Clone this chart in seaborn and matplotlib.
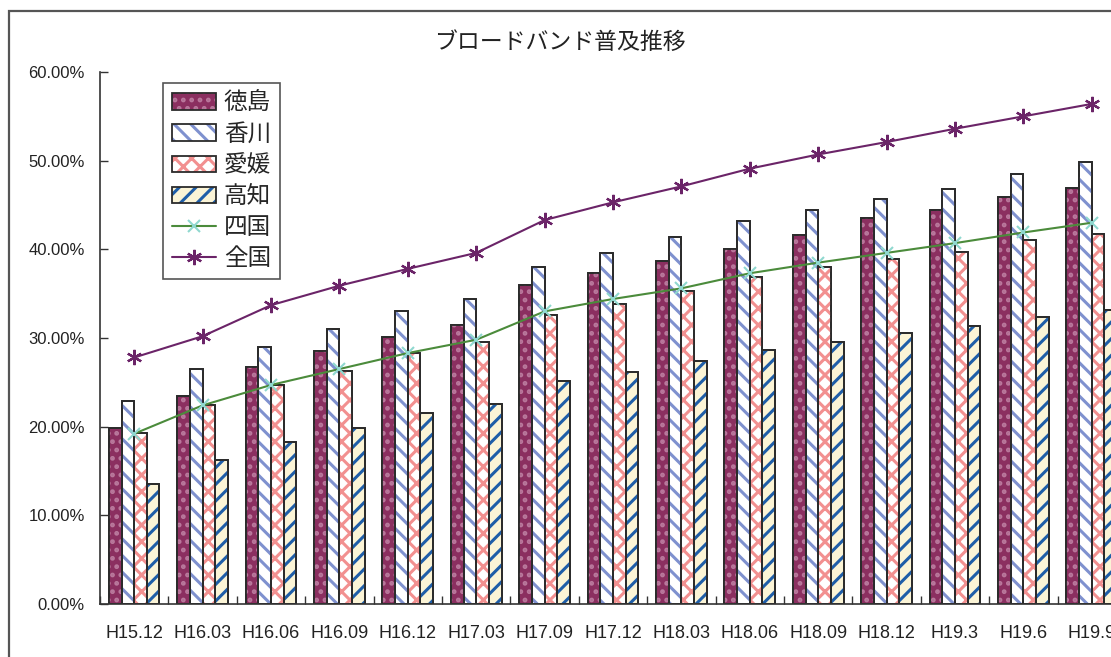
import numpy as np
import pandas as pd
import matplotlib
matplotlib.use('Agg')
import matplotlib.pyplot as plt
import seaborn as sns
from matplotlib.patches import Rectangle, Patch
from matplotlib.lines import Line2D
from matplotlib.ticker import FuncFormatter, FixedLocator

# data (percent)
periods = ['H15.12', 'H16.03', 'H16.06', 'H16.09', 'H16.12', 'H17.03', 'H17.09', 'H17.12',
           'H18.03', 'H18.06', 'H18.09', 'H18.12', 'H19.3', 'H19.6', 'H19.9']
prefs = ['徳島', '香川', '愛媛', '高知']
tokushima = [19.9, 23.5, 26.7, 28.5, 30.1, 31.5, 36.0, 37.3, 38.7, 40.0, 41.6, 43.5, 44.4, 45.9, 46.9]
kagawa = [22.9, 26.5, 29.0, 31.0, 33.0, 34.4, 38.0, 39.6, 41.4, 43.2, 44.4, 45.7, 46.8, 48.5, 49.8]
ehime = [19.3, 22.4, 24.7, 26.3, 28.3, 29.5, 32.6, 33.8, 35.3, 36.9, 38.0, 38.9, 39.7, 41.0, 41.7]
kochi = [13.5, 16.2, 18.3, 19.8, 21.5, 22.6, 25.1, 26.2, 27.4, 28.7, 29.5, 30.6, 31.4, 32.4, 33.2]
shikoku = [19.2, 22.4, 24.7, 26.5, 28.3, 29.8, 33.0, 34.4, 35.6, 37.3, 38.5, 39.6, 40.7, 41.9, 43.0]
zenkoku = [27.8, 30.2, 33.7, 35.9, 37.8, 39.6, 43.3, 45.3, 47.1, 49.1, 50.7, 52.1, 53.6, 55.0, 56.4]

face_colors = ['#8b2f60', '#ffffff', '#ffffff', '#fbf4d6']
hatch_colors = ['#b9789c', '#7f91cf', '#f29090', '#1f5ea8']
hatches = ['..', '\\\\', 'xx', '//']
edge = '#2b2b2b'

sns.set_theme(style='white')
plt.rcParams['font.family'] = ['Liberation Sans', 'Noto Sans CJK JP']
plt.rcParams['hatch.linewidth'] = 2.2

df = pd.DataFrame({
    'period': periods * 4,
    'pref': np.repeat(prefs, len(periods)),
    'value': np.concatenate([tokushima, kagawa, ehime, kochi]),
})

fig = plt.figure(figsize=(11.11, 6.57), dpi=100)
ax = fig.add_axes([0.09, 0.0807, 0.9235, 0.8097])

sns.barplot(data=df, x='period', y='value', hue='pref', hue_order=prefs,
            palette=dict(zip(prefs, face_colors)), saturation=1, width=0.74, gap=0,
            edgecolor=edge, linewidth=1.3, legend=False, ax=ax)

# hatch overlays + outlines
for i, cont in enumerate(ax.containers):
    for p in cont:
        xy, w, h = p.get_xy(), p.get_width(), p.get_height()
        ax.add_patch(Rectangle(xy, w, h, facecolor='none', edgecolor=hatch_colors[i],
                               hatch=hatches[i], lw=0, zorder=p.get_zorder() + 0.1))
        ax.add_patch(Rectangle(xy, w, h, fill=False, edgecolor=edge, lw=1.3,
                               zorder=p.get_zorder() + 0.2))

x_pos = np.arange(len(periods))
sns.lineplot(x=x_pos, y=shikoku, color='#4b8b3b', lw=1.5, marker='x', markersize=9,
             markeredgecolor='#8fd8cf', markeredgewidth=1.5, ax=ax, zorder=5)
sns.lineplot(x=x_pos, y=zenkoku, color='#6b2468', lw=1.5, marker=(6, 2, 0), markersize=11,
             markeredgecolor='#6b2468', markeredgewidth=1.6, ax=ax, zorder=5)

ax.set_xlim(-0.5, len(periods) - 0.5)
ax.set_ylim(0, 60)
ax.set_xlabel('')
ax.set_ylabel('')
ax.set_xticks(x_pos, periods)
ax.xaxis.set_minor_locator(FixedLocator(np.arange(-0.5, len(periods), 1)))
ax.set_yticks(np.arange(0, 61, 10))
ax.yaxis.set_major_formatter(FuncFormatter(lambda v, _: f'{v:.2f}%'))
ax.tick_params(axis='x', which='major', length=0, pad=15, labelsize=13, colors='#222')
ax.tick_params(axis='x', which='minor', direction='in', length=6, width=1, color='#333', bottom=True)
ax.tick_params(axis='y', direction='in', length=6, width=1, color='#333', left=True,
               pad=11, labelsize=12, labelcolor='#222')
for s in ['top', 'right']:
    ax.spines[s].set_visible(False)
for s in ['left', 'bottom']:
    ax.spines[s].set_color('#333')
    ax.spines[s].set_linewidth(1.2)

# legend
handles = []
for fc, hc, ht in zip(face_colors, hatch_colors, hatches):
    handles.append((Patch(facecolor=fc, edgecolor='none'),
                    Patch(facecolor='none', edgecolor=hc, hatch=ht, lw=0),
                    Patch(fill=False, edgecolor=edge, lw=1.3)))
handles.append(Line2D([], [], color='#4b8b3b', lw=1.5, marker='x', markersize=9,
                      markeredgecolor='#8fd8cf', markeredgewidth=1.5))
handles.append(Line2D([], [], color='#6b2468', lw=1.5, marker=(6, 2, 0), markersize=11,
                      markeredgecolor='#6b2468', markeredgewidth=1.6))
labels = prefs + ['四国', '全国']
leg = ax.legend(handles, labels, loc='upper left', bbox_to_anchor=(163 / 1111, 1 - 83 / 657),
                bbox_transform=fig.transFigure, frameon=True, fancybox=False, edgecolor='#555',
                framealpha=1, prop={'family': ['Noto Sans CJK JP'], 'size': 17},
                handlelength=1.85, handleheight=0.7, labelspacing=0.34, borderpad=0.38,
                handletextpad=0.35, borderaxespad=0)
leg.get_frame().set_linewidth(1.2)

fig.text(0.504, 0.936, 'ブロードバンド普及推移', ha='center', va='center', fontsize=16.5,
         family=['Noto Sans CJK JP'], color='#222')

# outer chart-area frame (runs off the right/bottom edges)
fig.add_artist(Rectangle((9 / 1111, -0.1), 1.2, 1.1 - 11 / 657, transform=fig.transFigure,
                         fill=False, edgecolor='#555', lw=1.6))

fig.savefig('out.png', dpi=100)
